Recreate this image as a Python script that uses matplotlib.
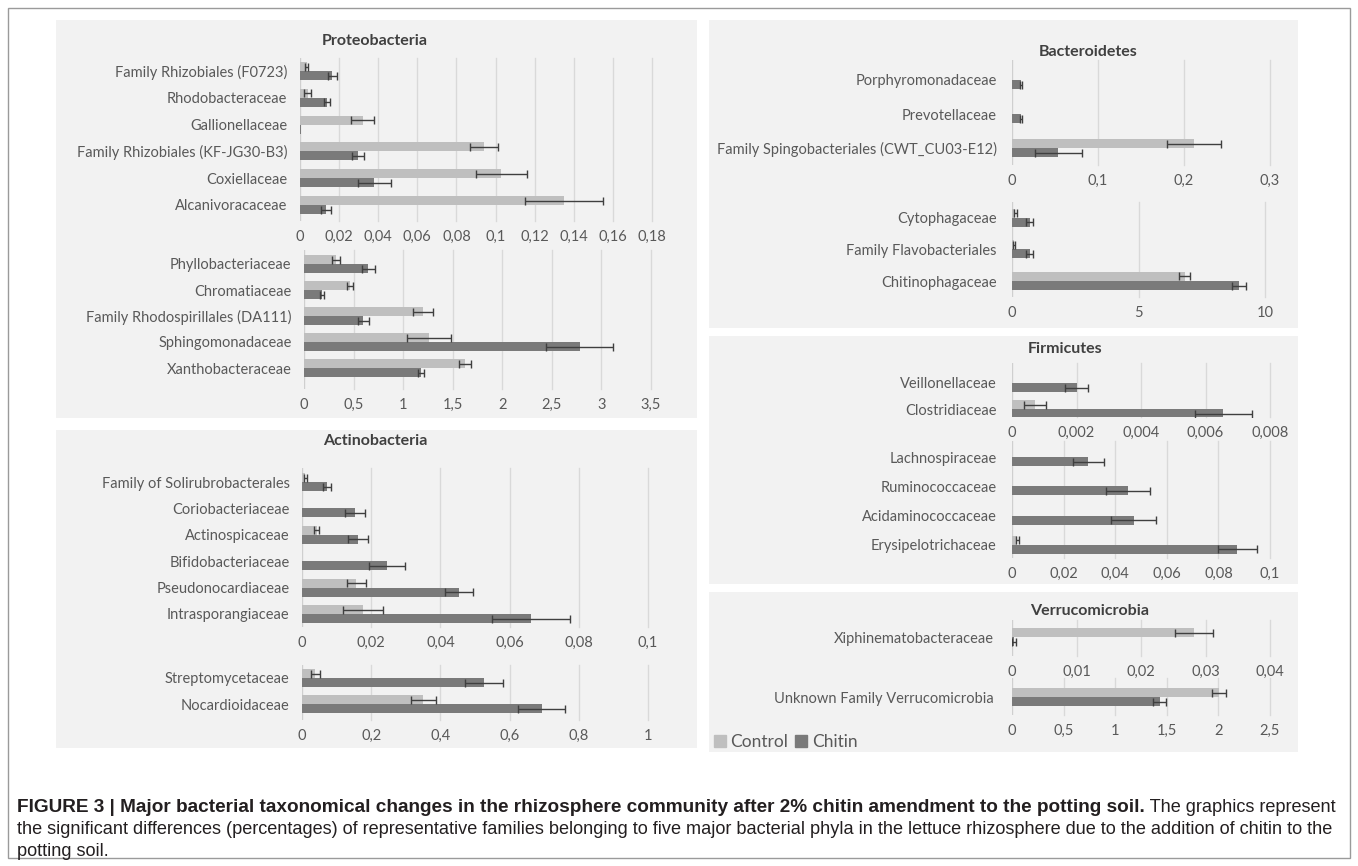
import numpy as np
import matplotlib
matplotlib.use("Agg")
import matplotlib.pyplot as plt
from matplotlib.patches import Rectangle
from matplotlib.ticker import FuncFormatter, MultipleLocator

# ---------------- data ----------------
proteo_a_cats = ["Family Rhizobiales (F0723)", "Rhodobacteraceae", "Gallionellaceae",
                 "Family Rhizobiales (KF-JG30-B3)", "Coxiellaceae", "Alcanivoracaceae"]
proteo_a_ctrl = [0.0035, 0.004, 0.032, 0.094, 0.103, 0.135]
proteo_a_ctrl_err = [0.0008, 0.0018, 0.006, 0.007, 0.013, 0.020]
proteo_a_chit = [0.0166, 0.0136, 0.0004, 0.0295, 0.038, 0.0132]
proteo_a_chit_err = [0.0021, 0.0015, 0.0, 0.003, 0.0085, 0.0025]

proteo_b_cats = ["Phyllobacteriaceae", "Chromatiaceae", "Family Rhodospirillales (DA111)",
                 "Sphingomonadaceae", "Xanthobacteraceae"]
proteo_b_ctrl = [0.32, 0.46, 1.20, 1.26, 1.62]
proteo_b_ctrl_err = [0.04, 0.03, 0.10, 0.22, 0.06]
proteo_b_chit = [0.65, 0.18, 0.60, 2.78, 1.18]
proteo_b_chit_err = [0.07, 0.02, 0.06, 0.34, 0.03]

actino_a_cats = ["Family of Solirubrobacterales", "Coriobacteriaceae", "Actinospicaceae",
                 "Bifidobacteriaceae", "Pseudonocardiaceae", "Intrasporangiaceae"]
actino_a_ctrl = [0.001, 0.0, 0.0042, 0.0, 0.0157, 0.0176]
actino_a_ctrl_err = [0.0005, 0.0, 0.0008, 0.0, 0.0027, 0.0058]
actino_a_chit = [0.0073, 0.0153, 0.0162, 0.0246, 0.0453, 0.0663]
actino_a_chit_err = [0.0012, 0.003, 0.003, 0.0052, 0.004, 0.0113]

actino_b_cats = ["Streptomycetaceae", "Nocardioidaceae"]
actino_b_ctrl = [0.039, 0.351]
actino_b_ctrl_err = [0.012, 0.035]
actino_b_chit = [0.525, 0.693]
actino_b_chit_err = [0.055, 0.068]

bactero_a_cats = ["Porphyromonadaceae", "Prevotellaceae", "Family Spingobacteriales (CWT_CU03-E12)"]
bactero_a_ctrl = [0.0, 0.0, 0.2116]
bactero_a_ctrl_err = [0.0, 0.0, 0.031]
bactero_a_chit = [0.0105, 0.0105, 0.054]
bactero_a_chit_err = [0.0015, 0.0015, 0.0275]

bactero_b_cats = ["Cytophagaceae", "Family Flavobacteriales", "Chitinophagaceae"]
bactero_b_ctrl = [0.12, 0.08, 6.82]
bactero_b_ctrl_err = [0.06, 0.03, 0.23]
bactero_b_chit = [0.70, 0.70, 8.97]
bactero_b_chit_err = [0.14, 0.13, 0.26]

firm_a_cats = ["Veillonellaceae", "Clostridiaceae"]
firm_a_ctrl = [0.0, 0.00071]
firm_a_ctrl_err = [0.0, 0.00035]
firm_a_chit = [0.0020, 0.00655]
firm_a_chit_err = [0.00035, 0.00088]

firm_b_cats = ["Lachnospiraceae", "Ruminococcaceae", "Acidaminococcaceae", "Erysipelotrichaceae"]
firm_b_ctrl = [0.0, 0.0, 0.0, 0.002]
firm_b_ctrl_err = [0.0, 0.0, 0.0, 0.0006]
firm_b_chit = [0.0296, 0.0448, 0.0472, 0.0874]
firm_b_chit_err = [0.006, 0.0085, 0.0087, 0.0075]

verru_a_cats = ["Xiphinematobacteraceae"]
verru_a_ctrl = [0.0282]
verru_a_ctrl_err = [0.003]
verru_a_chit = [0.0003]
verru_a_chit_err = [0.0003]

verru_b_cats = ["Unknown Family Verrucomicrobia"]
verru_b_ctrl = [2.008]
verru_b_ctrl_err = [0.07]
verru_b_chit = [1.43]
verru_b_chit_err = [0.06]

series_names = ["Control", "Chitin"]
caption_bold = ("FIGURE 3 | Major bacterial taxonomical changes in the rhizosphere community "
                "after 2% chitin amendment to the potting soil.")
caption_lines = [" The graphics represent",
                 "the significant differences (percentages) of representative families belonging to five major "
                 "bacterial phyla in the lettuce rhizosphere due to the addition of chitin to the",
                 "potting soil."]

# ---------------- style ----------------
W, H = 1358, 866
C_CTRL = "#bfbfbf"
C_CHIT = "#7a7a7a"
C_ERR = "#3f3f3f"
C_GRID = "#d9d9d9"
C_TEXT = "#595959"
C_PANEL = "#f2f2f2"
FONT = ["Lato", "DejaVu Sans"]
plt.rcParams["font.family"] = FONT

fig = plt.figure(figsize=(W / 100, H / 100), dpi=100)
fig.patch.set_facecolor("white")


def fx(x):
    return x / W


def fy(y):
    return 1 - y / H


# outer frame
fig.add_artist(Rectangle((fx(8), fy(858)), fx(1350) - fx(8), fy(8) - fy(858),
                         transform=fig.transFigure, fill=False, ec="#9a9a9a", lw=1))

# panels (x0, y0, x1, y1) in px
panels = [(56, 20, 697, 418), (56, 430, 697, 748),
          (709, 20, 1298, 328), (709, 336, 1298, 584), (709, 592, 1298, 752)]
for x0, y0, x1, y1 in panels:
    fig.add_artist(Rectangle((fx(x0), fy(y1)), fx(x1) - fx(x0), fy(y0) - fy(y1),
                             transform=fig.transFigure, fc=C_PANEL, ec="none", zorder=0))

titles = [("Proteobacteria", 375, 41), ("Actinobacteria", 375, 441), ("Bacteroidetes", 1088, 52),
          ("Firmicutes", 1065, 349), ("Verrucomicrobia", 1090, 611)]
for t, x, y in titles:
    fig.text(fx(x), fy(y), t, ha="center", va="center", fontsize=11.5, fontweight="bold", color="#404040")


def fmt(v, pos):
    s = f"{round(v, 6):g}"
    return s.replace(".", ",")


def draw(cats, ctrl, ctrl_err, chit, chit_err, xmax, step, lay, ypad):
    x0, x1, first_y, spacing, top_y, tick_y = lay
    bot_y = tick_y - 19
    ax = fig.add_axes([fx(x0), fy(bot_y), fx(x1) - fx(x0), fy(top_y) - fy(bot_y)])
    ax.set_facecolor("none")
    n = len(cats)
    y = np.arange(n)
    h = 9.0 / spacing
    ax.set_xlim(0, xmax)
    ax.set_ylim((bot_y - first_y) / spacing, (top_y - first_y) / spacing)
    for t in np.arange(step, xmax + step / 2, step):
        ax.axvline(t, color=C_GRID, lw=1, zorder=0, clip_on=False)
    ax.axvline(0, color="#cfcfcf", lw=1, zorder=0.5)
    ctrl = np.asarray(ctrl, float)
    chit = np.asarray(chit, float)
    ctrl_err = np.asarray(ctrl_err, float)
    chit_err = np.asarray(chit_err, float)
    ax.barh(y - h / 2, ctrl, height=h, color=C_CTRL, zorder=2)
    ax.barh(y + h / 2, chit, height=h, color=C_CHIT, zorder=2)
    m = ctrl_err > 0
    ax.errorbar(ctrl[m], (y - h / 2)[m], xerr=ctrl_err[m], fmt="none", ecolor=C_ERR,
                elinewidth=1, capsize=3, capthick=1, zorder=3)
    m = chit_err > 0
    ax.errorbar(chit[m], (y + h / 2)[m], xerr=chit_err[m], fmt="none", ecolor=C_ERR,
                elinewidth=1, capsize=3, capthick=1, zorder=3)
    ax.set_yticks(y)
    ax.set_yticklabels(cats)
    ax.xaxis.set_major_locator(MultipleLocator(step))
    ax.xaxis.set_major_formatter(FuncFormatter(fmt))
    ax.tick_params(axis="x", length=0, pad=6.5, labelsize=10.5, labelcolor=C_TEXT)
    ax.tick_params(axis="y", length=0, pad=ypad, labelsize=10.5, labelcolor=C_TEXT)
    for s in ax.spines.values():
        s.set_visible(False)
    return ax


draw(proteo_a_cats, proteo_a_ctrl, proteo_a_ctrl_err, proteo_a_chit, proteo_a_chit_err,
     0.18, 0.02, (300, 652, 71, 26.8, 58, 240), 9)
draw(proteo_b_cats, proteo_b_ctrl, proteo_b_ctrl_err, proteo_b_chit, proteo_b_chit_err,
     3.5, 0.5, (304, 651, 264, 26, 250, 408), 9)
draw(actino_a_cats, actino_a_ctrl, actino_a_ctrl_err, actino_a_chit, actino_a_chit_err,
     0.1, 0.02, (302, 648, 482, 26.4, 468, 646), 9)
draw(actino_b_cats, actino_b_ctrl, actino_b_ctrl_err, actino_b_chit, actino_b_chit_err,
     1.0, 0.2, (302, 648, 678, 26, 665, 739), 9)
draw(bactero_a_cats, bactero_a_ctrl, bactero_a_ctrl_err, bactero_a_chit, bactero_a_chit_err,
     0.3, 0.1, (1012, 1270, 80, 34, 60, 184), 11)
draw(bactero_b_cats, bactero_b_ctrl, bactero_b_ctrl_err, bactero_b_chit, bactero_b_chit_err,
     10, 5, (1012, 1265, 218, 31.5, 202, 316), 11)
draw(firm_a_cats, firm_a_ctrl, firm_a_ctrl_err, firm_a_chit, firm_a_chit_err,
     0.008, 0.002, (1012, 1270, 383, 26, 363, 436), 11)
draw(firm_b_cats, firm_b_ctrl, firm_b_ctrl_err, firm_b_chit, firm_b_chit_err,
     0.1, 0.02, (1012, 1270, 457, 29.3, 441, 577), 11)
draw(verru_a_cats, verru_a_ctrl, verru_a_ctrl_err, verru_a_chit, verru_a_chit_err,
     0.04, 0.01, (1012, 1270, 637, 36, 620, 675), 13)
draw(verru_b_cats, verru_b_ctrl, verru_b_ctrl_err, verru_b_chit, verru_b_chit_err,
     2.5, 0.5, (1012, 1270, 697, 36, 678, 734), 13)

# legend
handles = [Rectangle((0, 0), 1, 1, color=C_CTRL), Rectangle((0, 0), 1, 1, color=C_CHIT)]
fig.legend(handles, series_names, loc="center left", bbox_to_anchor=(fx(714), fy(742)),
           ncol=2, frameon=False, fontsize=12.5, labelcolor=C_TEXT, handlelength=0.7,
           handleheight=0.7, handletextpad=0.25, columnspacing=0.4, borderaxespad=0, borderpad=0)

# caption (font sizes fitted so the lines span the same width as in the reference)
fig.canvas.draw()
r = fig.canvas.get_renderer()
cap_font = ["Liberation Sans", "DejaVu Sans"]


def text_w(s, size, weight="normal"):
    p = fig.text(0, 0, s, fontsize=size, family=cap_font, fontweight=weight)
    w = p.get_window_extent(r).width
    p.remove()
    return w


fs = 11 * (1332 - 17) / text_w(caption_lines[1], 11)
w_reg = text_w(caption_lines[0], fs)
fs_b = 11 * (1340 - 17 - w_reg) / text_w(caption_bold, 11, "bold")
t1 = fig.text(fx(17), fy(807), caption_bold, ha="left", va="center", fontsize=fs_b,
              fontweight="bold", family=cap_font, color="#231f20")
bb = t1.get_window_extent(r)
fig.text(bb.x1 / W, fy(807), caption_lines[0], ha="left", va="center", fontsize=fs,
         family=cap_font, color="#231f20")
fig.text(fx(17), fy(829), caption_lines[1], ha="left", va="center", fontsize=fs,
         family=cap_font, color="#231f20")
fig.text(fx(17), fy(851), caption_lines[2], ha="left", va="center", fontsize=fs,
         family=cap_font, color="#231f20")

fig.savefig("out.png", dpi=100, facecolor="white")
